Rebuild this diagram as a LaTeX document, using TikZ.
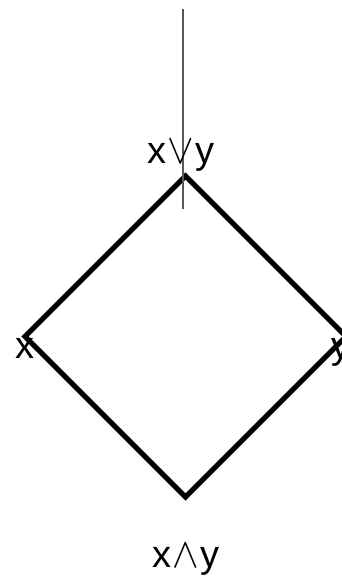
\documentclass[tikz,border=0pt]{standalone}
\usepackage{graphicx}
\usepackage{fontspec}
\setmainfont{Liberation Sans}
\newcommand{\bigor}{\scalebox{1.6}[1.7]{$\vee$}}
\newcommand{\bigand}{\scalebox{1.6}[1.7]{$\wedge$}}
\begin{document}
\begin{tikzpicture}[x=1pt,y=-1pt,
  edge/.style={line width=5pt,line join=miter},
  lbl/.style={font=\fontsize{38}{40}\selectfont,inner sep=0pt,anchor=base}]
\useasboundingbox (0,0) rectangle (342,576);
\coordinate (t) at (185.5,176);
\coordinate (l) at (25,336.5);
\coordinate (r) at (346,336.5);
\coordinate (b) at (185.5,497);
\coordinate (ltop) at (183,9);
\coordinate (lbot) at (183,209);
\draw[edge] (t) -- (l) -- (b) -- (r) -- cycle;
\draw[black!65,line width=1.6pt] (ltop) -- (lbot);
\node[lbl] (join) at (181,163) {x\kern1pt\bigor\kern1pt y};
\node[lbl] (meet) at (186,567) {x\kern1pt\bigand\kern1pt y};
\node[lbl] (xl) at (25,358) {x};
\node[lbl] (yr) at (341,358) {y};
\end{tikzpicture}
\end{document}
